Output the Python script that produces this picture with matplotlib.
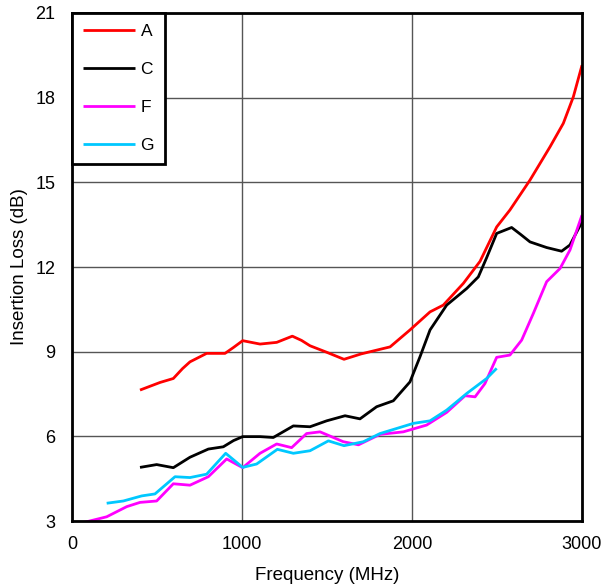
import matplotlib
matplotlib.use("Agg")
import matplotlib.pyplot as plt

plt.rcParams['font.family'] = ['Liberation Sans', 'DejaVu Sans']

a_x = [400, 518, 596, 650, 694, 792, 900, 950, 1004, 1106, 1204, 1296, 1350, 1400, 1498, 1600, 1700, 1871, 1988, 2106, 2184, 2302, 2400, 2498, 2576, 2694, 2812, 2890, 2949, 3000]
a_y = [7.64, 7.91, 8.05, 8.40, 8.64, 8.94, 8.94, 9.15, 9.39, 9.27, 9.33, 9.55, 9.40, 9.21, 8.98, 8.73, 8.92, 9.17, 9.77, 10.41, 10.65, 11.42, 12.2, 13.42, 14.02, 15.08, 16.26, 17.09, 18.03, 19.15]

c_x = [400, 498, 596, 694, 802, 890, 950, 1004, 1106, 1184, 1302, 1400, 1498, 1606, 1694, 1792, 1890, 1988, 2047, 2106, 2204, 2322, 2390, 2439, 2498, 2586, 2640, 2694, 2792, 2880, 2929, 3000]
c_y = [4.90, 5.00, 4.89, 5.26, 5.55, 5.63, 5.85, 5.99, 5.99, 5.96, 6.37, 6.34, 6.55, 6.73, 6.62, 7.05, 7.26, 7.93, 8.82, 9.77, 10.65, 11.24, 11.65, 12.33, 13.19, 13.40, 13.15, 12.89, 12.69, 12.56, 12.78, 13.60]

f_x = [50, 204, 322, 400, 498, 596, 694, 802, 910, 1004, 1106, 1204, 1292, 1380, 1459, 1596, 1685, 1812, 1949, 2086, 2204, 2312, 2371, 2429, 2498, 2576, 2645, 2714, 2792, 2871, 2929, 3000]
f_y = [2.92, 3.15, 3.51, 3.66, 3.71, 4.32, 4.27, 4.57, 5.20, 4.89, 5.40, 5.73, 5.60, 6.10, 6.16, 5.81, 5.70, 6.07, 6.16, 6.40, 6.85, 7.44, 7.40, 7.87, 8.80, 8.88, 9.41, 10.36, 11.48, 11.95, 12.60, 13.84]

g_x = [204, 302, 410, 488, 606, 694, 792, 904, 1004, 1086, 1208, 1302, 1400, 1508, 1600, 1714, 1812, 2008, 2106, 2204, 2322, 2439, 2498]
g_y = [3.63, 3.71, 3.89, 3.96, 4.57, 4.54, 4.66, 5.40, 4.90, 5.02, 5.54, 5.40, 5.49, 5.84, 5.67, 5.81, 6.10, 6.46, 6.55, 6.93, 7.52, 8.05, 8.41]

series = [("A", a_x, a_y, "#ff0000"),
          ("C", c_x, c_y, "#000000"),
          ("F", f_x, f_y, "#ff00ff"),
          ("G", g_x, g_y, "#00c8ff")]

x_ticks = [0, 1000, 2000, 3000]
y_ticks = [3, 6, 9, 12, 15, 18, 21]

fig = plt.figure(figsize=(6.02, 5.88), dpi=100)
ax = fig.add_axes([0.1196, 0.1139, 0.8472, 0.8640])

for lab, xs, ys, col in series:
    ax.plot(xs, ys, color=col, lw=2.0, label=lab,
            solid_joinstyle='round', solid_capstyle='butt')

ax.set_xlim(0, 3000)
ax.set_ylim(3, 21)
ax.set_xticks(x_ticks)
ax.set_yticks(y_ticks)
ax.grid(True, color='#555555', lw=1.0)
ax.set_axisbelow(True)
ax.tick_params(axis='x', length=0, labelsize=13, pad=11)
ax.tick_params(axis='y', length=0, labelsize=13, pad=12)
for s in ax.spines.values():
    s.set_linewidth(2.0)
    s.set_color('black')

ax.set_xlabel("Frequency (MHz)", fontsize=13.5, labelpad=10)
ax.set_ylabel("Insertion Loss (dB)", fontsize=13.5, labelpad=5)

leg = ax.legend(loc='upper left', bbox_to_anchor=(0, 1), borderaxespad=0,
                fancybox=False, framealpha=1, edgecolor='black',
                fontsize=12.5, labelspacing=1.3, handlelength=3.0,
                handletextpad=0.3, borderpad=0.65)
leg.get_frame().set_linewidth(2.0)

fig.savefig("out.png", dpi=100)
